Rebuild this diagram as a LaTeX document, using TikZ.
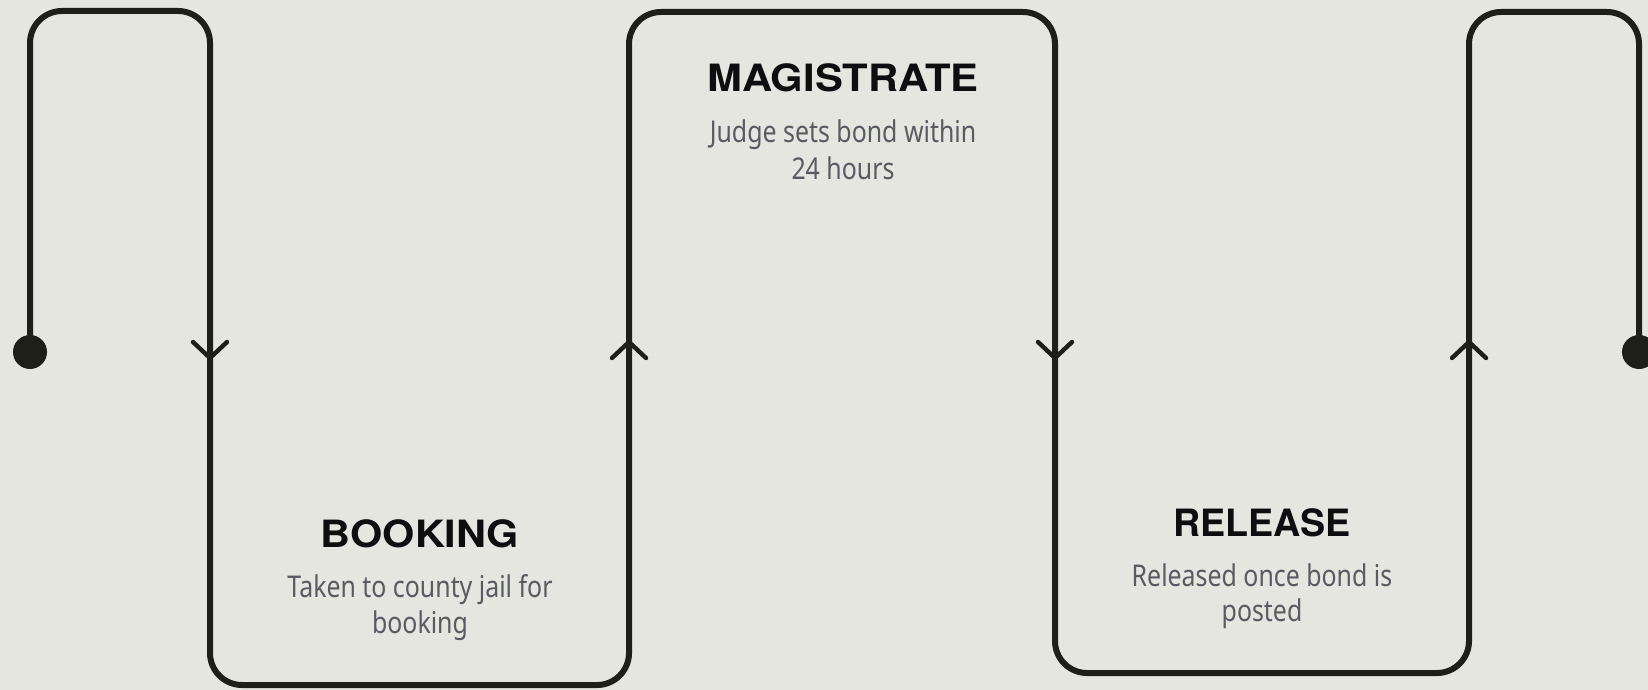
\documentclass[tikz,border=0pt]{standalone}
\usepackage{fontspec}
\usepackage{graphicx}
\newfontfamily\titlefont[FakeStretch=1.06]{TeX Gyre Heros}
\newfontfamily\subfont[FakeStretch=0.83]{Noto Sans}
\definecolor{bg}{HTML}{E6E6E0}
\definecolor{ink}{HTML}{1F1F1A}
\definecolor{ttl}{HTML}{0E0E10}
\definecolor{sub}{HTML}{5A5B62}
\tikzset{
  flow/.style={draw=ink, line width=3pt, rounded corners=16pt, line join=round},
  chevron/.style={draw=ink, line width=2.2pt, line cap=round, line join=miter},
  enddot/.style={circle, fill=ink, inner sep=0pt, minimum size=17pt},
  title/.style={anchor=base, inner sep=0pt, text=ttl, font=\titlefont\bfseries\fontsize{18.8}{22}\selectfont},
  subline/.style={anchor=base, inner sep=0pt, text=sub, font=\subfont\fontsize{15}{18}\selectfont},
  chevdown/.pic={\draw[chevron] (-17,-16) -- (0,0) -- (17,-16);},
  chevup/.pic={\draw[chevron] (-17,16) -- (0,0) -- (17,16);}
}
\begin{document}
\begin{tikzpicture}[x=0.5pt, y=-0.5pt]
\useasboundingbox (0,0) rectangle (1648,690);
\fill[bg] (0,0) rectangle (1648,690);

\node[enddot] (start) at (30,352) {};
\node[enddot] (finish) at (1639,352) {};

\coordinate (c1) at (30,11);
\coordinate (c2) at (210,11);
\coordinate (c3) at (210,685);
\coordinate (c4) at (629,685);
\coordinate (c5) at (629,12);
\coordinate (c6) at (1055,12);
\coordinate (c7) at (1055,673);
\coordinate (c8) at (1469,673);
\coordinate (c9) at (1469,12);
\coordinate (c10) at (1639,12);

\draw[flow] (start.center) -- (c1) -- (c2) -- (c3) -- (c4) -- (c5) -- (c6) -- (c7) -- (c8) -- (c9) -- (c10) -- (finish.center);

\pic at (210,358) {chevdown};
\pic at (629,342) {chevup};
\pic at (1055,358) {chevdown};
\pic at (1469,342) {chevup};

\node[title] (booking) at (420,547) {\scalebox{1.04}[1]{BOOKING}};
\node[subline] (booking1) at (420,597) {Taken to county jail for};
\node[subline] (booking2) at (420,633) {booking};

\node[title] (magistrate) at (843,91) {\scalebox{1.05}[1]{MAGISTRATE}};
\node[subline] (magistrate1) at (843,142) {Judge sets bond within};
\node[subline] (magistrate2) at (843,179) {24 hours};

\node[title] (release) at (1262,536) {\scalebox{0.945}[1]{RELEASE}};
\node[subline] (release1) at (1262,586) {Released once bond is};
\node[subline] (release2) at (1262,621) {posted};
\end{tikzpicture}
\end{document}
